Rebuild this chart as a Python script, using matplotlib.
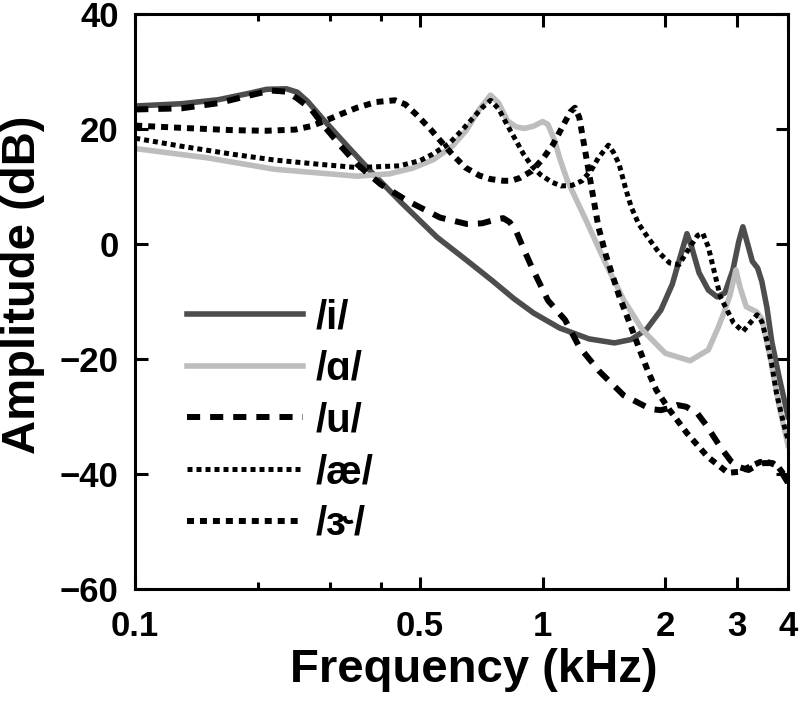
import numpy as np
import matplotlib
matplotlib.use("Agg")
import matplotlib.pyplot as plt
from matplotlib.ticker import FixedLocator, NullFormatter

plt.rcParams['font.family'] = ['Liberation Sans', 'DejaVu Sans']
plt.rcParams['font.weight'] = 'bold'

# spectra (frequency in kHz, amplitude in dB)
f_i = [0.10, 0.13, 0.16, 0.19, 0.21, 0.235, 0.25, 0.265, 0.29, 0.33, 0.38, 0.45,
       0.55, 0.65, 0.75, 0.85, 0.95, 1.10, 1.30, 1.50, 1.65, 1.80, 1.95, 2.08,
       2.18, 2.26, 2.32, 2.42, 2.55, 2.68, 2.80, 2.93, 3.03, 3.10, 3.17, 3.27,
       3.37, 3.45, 3.55, 3.65, 3.80, 4.00]
a_i = [24.0, 24.4, 25.1, 26.2, 26.9, 27.0, 26.4, 24.8, 21.6, 17.2, 12.5, 7.2,
       1.2, -2.8, -6.3, -9.5, -12.0, -14.6, -16.5, -17.2, -16.6, -14.8, -11.5, -7.0,
       -2.0, 1.8, -0.5, -5.0, -8.0, -9.2, -8.5, -4.5, 0.5, 3.0, 0.5, -3.0,
       -4.2, -6.5, -11.0, -17.0, -23.0, -30.0]

f_a = [0.10, 0.15, 0.22, 0.30, 0.35, 0.42, 0.48, 0.54, 0.60, 0.65, 0.70, 0.745,
       0.78, 0.82, 0.86, 0.90, 0.95, 1.00, 1.03, 1.07, 1.10, 1.15, 1.28, 1.43,
       1.58, 1.76, 2.00, 2.30, 2.55, 2.70, 2.80, 2.88, 2.98, 3.05, 3.16, 3.35,
       3.45, 3.60, 3.80, 4.00]
a_a = [16.6, 15.0, 13.0, 12.2, 11.8, 12.2, 13.2, 14.7, 17.0, 19.8, 23.5, 25.9,
       24.5, 21.4, 20.4, 20.1, 20.5, 21.3, 20.8, 18.0, 15.0, 11.0, 4.0, -3.5,
       -9.7, -15.0, -19.0, -20.3, -18.4, -14.4, -11.5, -9.0, -4.5, -7.5, -10.9, -11.8,
       -13.0, -19.0, -28.0, -35.0]

f_u = [0.10, 0.13, 0.16, 0.19, 0.215, 0.235, 0.25, 0.27, 0.29, 0.32, 0.35, 0.40,
       0.466, 0.56, 0.65, 0.71, 0.77, 0.80, 0.83, 0.86, 0.90, 0.94, 1.03, 1.135,
       1.23, 1.38, 1.58, 1.84, 1.95, 2.05, 2.14, 2.25, 2.40, 2.52, 2.73, 2.90,
       3.04, 3.20, 3.35, 3.48, 3.67, 3.80, 4.00]
a_u = [23.4, 23.6, 24.5, 25.8, 26.7, 26.5, 25.3, 23.5, 20.6, 17.0, 13.9, 10.4,
       7.5, 4.6, 3.5, 3.6, 4.3, 4.5, 3.8, 2.3, -1.0, -4.0, -9.8, -13.2,
       -17.9, -22.2, -26.3, -28.7, -28.9, -28.5, -28.0, -28.3, -29.5, -31.5, -35.3, -37.8,
       -38.8, -39.3, -38.5, -38.1, -38.1, -39.0, -41.5]

f_ae = [0.10, 0.13, 0.174, 0.22, 0.28, 0.35, 0.445, 0.50, 0.536, 0.59, 0.632, 0.68,
        0.71, 0.745, 0.78, 0.817, 0.86, 0.898, 0.94, 0.986, 1.05, 1.11, 1.18, 1.25,
        1.32, 1.37, 1.45, 1.49, 1.54, 1.60, 1.65, 1.72, 1.81, 1.93, 2.05, 2.16,
        2.30, 2.40, 2.47, 2.55, 2.62, 2.73, 2.94, 3.10, 3.25, 3.36, 3.45, 3.54,
        3.65, 3.75, 3.92, 4.00]
a_ae = [18.4, 17.0, 15.6, 14.6, 13.9, 13.3, 13.6, 14.5, 15.6, 17.5, 19.7, 22.2,
        23.7, 25.0, 23.5, 20.8, 18.0, 15.6, 13.6, 12.1, 10.8, 10.1, 10.2, 11.0,
        13.0, 15.0, 17.2, 16.0, 13.9, 9.5, 6.4, 3.5, 1.2, -1.5, -3.3, -3.6,
        -0.5, 1.5, 1.9, -0.5, -4.0, -9.2, -13.7, -15.2, -13.5, -12.3, -13.5, -16.5,
        -21.0, -26.0, -31.8, -34.0]

f_er = [0.10, 0.13, 0.174, 0.21, 0.247, 0.27, 0.292, 0.32, 0.35, 0.39, 0.434, 0.46,
        0.49, 0.53, 0.562, 0.60, 0.646, 0.70, 0.744, 0.80, 0.837, 0.88, 0.94, 1.00,
        1.06, 1.12, 1.17, 1.20, 1.23, 1.28, 1.37, 1.43, 1.54, 1.65, 1.73, 1.81,
        1.90, 2.05, 2.26, 2.54, 2.85, 3.04, 3.25, 3.42, 3.60, 3.77, 3.90, 4.00]
a_er = [20.6, 20.2, 19.8, 19.7, 19.9, 20.5, 21.4, 22.6, 23.7, 24.7, 25.0, 24.3,
        22.5, 20.0, 17.9, 15.6, 13.3, 11.9, 11.3, 11.0, 11.0, 11.5, 12.7, 14.8,
        17.3, 20.5, 23.0, 23.7, 22.0, 15.0, 3.0, -2.0, -9.0, -14.5, -18.4, -22.0,
        -25.4, -28.9, -32.9, -37.0, -39.8, -39.6, -38.6, -37.9, -38.0, -38.6, -40.0, -41.5]

labels = ['/i/', '/\u0251/', '/u/', '/\u00e6/', '/\u025d/']

fig = plt.figure(figsize=(8, 7.05), dpi=100)
ax = fig.add_axes([0.169, 0.1645, 0.816, 0.8156])

ax.plot(f_i, a_i, color='#4d4d4d', lw=4.0, label=labels[0])
ax.plot(f_a, a_a, color='#bdbdbd', lw=4.0, label=labels[1])
ax.plot(f_u, a_u, color='black', lw=4.3, dashes=(2.2, 1.67), label=labels[2])
ax.plot(f_ae, a_ae, color='black', lw=3.6, dashes=(1.0, 0.8), label=labels[3])
ax.plot(f_er, a_er, color='black', lw=4.3, dashes=(1.17, 1.0), label=labels[4])

ax.set_xscale('log')
ax.set_xlim(0.1, 4)
ax.set_ylim(-60, 40)
ax.xaxis.set_major_locator(FixedLocator([0.1, 0.5, 1, 2, 3, 4]))
ax.xaxis.set_minor_locator(FixedLocator([0.2, 0.3, 0.4]))
ax.xaxis.set_minor_formatter(NullFormatter())
ax.set_xticklabels(['0.1', '0.5', '1', '2', '3', '4'])
ax.set_yticks([-60, -40, -20, 0, 20, 40])

ax.tick_params(which='both', direction='in', top=True, right=True, width=2.2,
               labelsize=25)
ax.tick_params(which='major', length=9)
ax.tick_params(which='minor', length=5)
ax.tick_params(axis='y', pad=12)
ax.tick_params(axis='x', pad=15)
for s in ax.spines.values():
    s.set_linewidth(2.2)

ax.set_xlabel('Frequency (kHz)', fontsize=34, fontweight='bold')
ax.set_ylabel('Amplitude (dB)', fontsize=34, fontweight='bold')
ax.xaxis.set_label_coords(0.519, -0.103)
ax.yaxis.set_label_coords(-0.138, 0.53)

ax.legend(loc='upper left', bbox_to_anchor=(0.0796, 0.506), frameon=False,
          fontsize=29, handlelength=2.88, handletextpad=0.3, labelspacing=0.34,
          borderpad=0, borderaxespad=0)

fig.savefig('out.png', dpi=100)
